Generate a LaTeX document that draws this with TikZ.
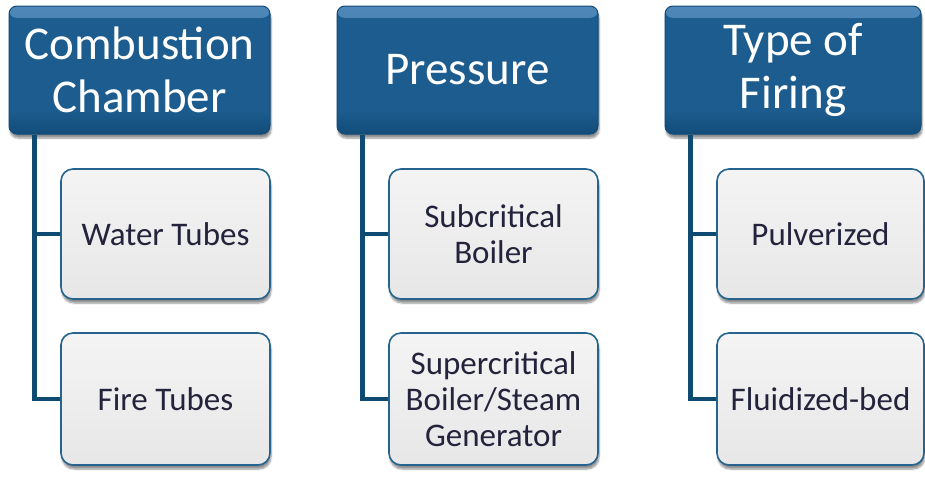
\documentclass[tikz,border=0pt]{standalone}
\usepackage{fontspec}
\setmainfont{Carlito}
\usetikzlibrary{shadows.blur}
\definecolor{hdr}{HTML}{1C5C8E}
\definecolor{hdrtop}{HTML}{5089B9}
\definecolor{hdrbot}{HTML}{124C7A}
\definecolor{lnk}{HTML}{0F4A72}
\definecolor{kidline}{HTML}{25648F}
\definecolor{kidtext}{HTML}{23233C}
\definecolor{kidtop}{HTML}{F4F4F4}
\definecolor{kidbot}{HTML}{E7E7E7}
\begin{document}
\begin{tikzpicture}[x=1pt,y=-1pt,
  header/.style={draw=hdrbot, line width=1pt, rounded corners=8pt,
    fill=hdr,
    path picture={
      \shade[top color=hdrtop, bottom color=hdr]
        (path picture bounding box.north west) rectangle ([yshift=-12pt]path picture bounding box.north east);
      \shade[top color=hdr, bottom color=hdrbot]
        ([yshift=24pt]path picture bounding box.south west) rectangle (path picture bounding box.south east);
    },
    minimum width=261pt, minimum height=128pt, inner sep=0pt,
    text=white, align=center, font=\fontsize{47}{53}\selectfont,
    blur shadow={shadow xshift=1pt, shadow yshift=-4pt, shadow blur steps=6, shadow opacity=45}},
  kid/.style={draw=kidline, line width=1.6pt, rounded corners=12pt,
    top color=kidtop, bottom color=kidbot,
    minimum width=209pt, minimum height=130pt, inner sep=0pt,
    text=kidtext, align=center, font=\fontsize{33}{36}\selectfont,
    blur shadow={shadow xshift=1pt, shadow yshift=-4pt, shadow blur steps=6, shadow opacity=45}},
  link/.style={draw=lnk, line width=4.5pt}
]
\useasboundingbox (0,0) rectangle (925,479);
% headers
\node[header] (h1) at (139.5,70) {Combustion\\Chamber};
\node[header] (h2) at (467.5,70) {Pressure};
\node[header, minimum width=256pt] (h3) at (793,70) {Type of\\Firing};
% children
\node[kid] (k11) at (165.5,234) {Water Tubes};
\node[kid, minimum height=132pt] (k12) at (165.5,399) {Fire Tubes};
\node[kid] (k21) at (493.5,234) {Subcritical\\Boiler};
\node[kid, minimum height=132pt] (k22) at (493.5,399) {Supercritical\\Boiler/Steam\\Generator};
\node[kid, minimum width=207pt] (k31) at (820.5,234) {Pulverized};
\node[kid, minimum width=207pt, minimum height=132pt] (k32) at (820.5,399) {Fluidized-bed};
% connectors
\draw[link] ([xshift=26pt]h1.south west) |- (k12.west);
\draw[link] ([xshift=26pt]h1.south west) |- (k11.west);
\draw[link] ([xshift=26pt]h2.south west) |- (k22.west);
\draw[link] ([xshift=26pt]h2.south west) |- (k21.west);
\draw[link] ([xshift=26pt]h3.south west) |- (k32.west);
\draw[link] ([xshift=26pt]h3.south west) |- (k31.west);
\end{tikzpicture}
\end{document}
